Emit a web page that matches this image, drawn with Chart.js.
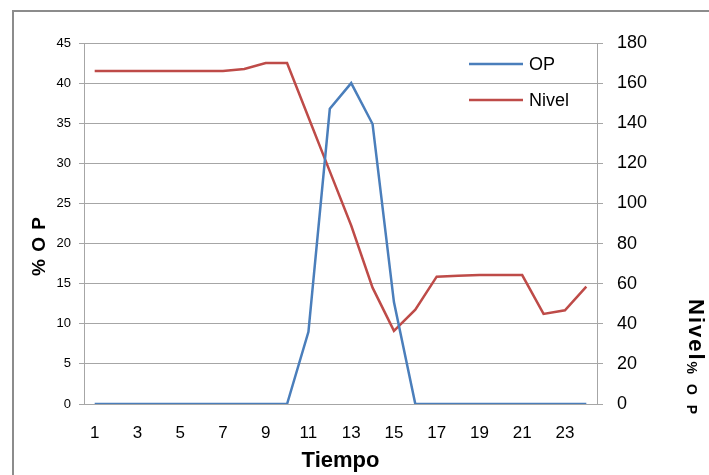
<!DOCTYPE html>
<html>
<head>
<meta charset="utf-8">
<script src="https://cdn.jsdelivr.net/npm/chart.js@4/dist/chart.umd.min.js"></script>
<style>
  html, body { margin: 0; padding: 0; background: #fff; overflow: hidden; }
  #wrap { position: relative; width: 709px; height: 475px; }
  #frame { position: absolute; left: 12px; top: 10px; width: 720px; height: 500px;
           border-left: 2px solid #8c8c8c; border-top: 2px solid #8c8c8c; box-sizing: border-box; }
  canvas { position: absolute; left: 0; top: 0; }
</style>
</head>
<body>
<div id="wrap">
  <div id="frame"></div>
  <canvas id="chart" width="709" height="475"></canvas>
</div>
<script>
// datos
const tiempo = [1, 2, 3, 4, 5, 6, 7, 8, 9, 10, 11, 12, 13, 14, 15, 16, 17, 18, 19, 20, 21, 22, 23, 24];
const op = [0, 0, 0, 0, 0, 0, 0, 0, 0, 0, 9, 36.8, 40, 34.9, 12.7, 0, 0, 0, 0, 0, 0, 0, 0, 0];
const nivel = [166, 166, 166, 166, 166, 166, 166, 167, 170, 170, 143, 116, 89, 58, 36.5, 47, 63.5, 64, 64.3, 64.3, 64.3, 44.9, 46.7, 58.5];
const ticksOP = [0, 5, 10, 15, 20, 25, 30, 35, 40, 45];
const ticksNivel = [0, 20, 40, 60, 80, 100, 120, 140, 160, 180];

const azul = '#4a7ebb';
const rojo = '#be4b48';
const gris = '#a6a6a6';
const fuente = '"Liberation Sans", Arial, sans-serif';

// titulos y leyenda dibujados a mano
const extras = {
    id: 'extras',
    afterDraw(chart) {
        const ctx = chart.ctx;
        const area = chart.chartArea;
        ctx.save();
        ctx.fillStyle = '#000';

        // titulo eje izquierdo
        ctx.save();
        ctx.translate(40, 246);
        ctx.rotate(-Math.PI / 2);
        ctx.font = 'bold 19px ' + fuente;
        ctx.letterSpacing = '1px';
        ctx.textAlign = 'center';
        ctx.textBaseline = 'middle';
        ctx.fillText('% O P', 0, 0);
        ctx.restore();

        // titulo eje x
        ctx.font = 'bold 22px ' + fuente;
        ctx.textAlign = 'center';
        ctx.textBaseline = 'middle';
        ctx.fillText('Tiempo', (area.left + area.right) / 2, 461);

        // titulo eje derecho
        ctx.save();
        ctx.translate(689, 299);
        ctx.rotate(Math.PI / 2);
        ctx.textAlign = 'left';
        ctx.textBaseline = 'alphabetic';
        ctx.font = 'bold 22px ' + fuente;
        ctx.letterSpacing = '2px';
        ctx.fillText('Nivel', 0, 0);
        const w = ctx.measureText('Nivel').width;
        ctx.font = 'bold 14px ' + fuente;
        ctx.letterSpacing = '3px';
        ctx.fillText('% O P', w, 2);
        ctx.restore();

        // leyenda
        const items = [[chart.data.datasets[0], 64], [chart.data.datasets[1], 100]];
        ctx.font = '18px ' + fuente;
        ctx.textAlign = 'left';
        ctx.textBaseline = 'middle';
        items.forEach(function(it) {
            ctx.strokeStyle = it[0].borderColor;
            ctx.lineWidth = 2.5;
            ctx.beginPath();
            ctx.moveTo(469, it[1]);
            ctx.lineTo(523, it[1]);
            ctx.stroke();
            ctx.fillText(it[0].label, 529, it[1] + 1);
        });
        ctx.restore();
    }
};

const ctx = document.getElementById('chart').getContext('2d');
new Chart(ctx, {
    type: 'line',
    data: {
        labels: tiempo,
        datasets: [
            { label: 'OP', data: op, yAxisID: 'y', borderColor: azul, backgroundColor: azul,
              borderWidth: 2.5, pointRadius: 0, tension: 0 },
            { label: 'Nivel', data: nivel, yAxisID: 'y1', borderColor: rojo, backgroundColor: rojo,
              borderWidth: 2.5, pointRadius: 0, tension: 0 }
        ]
    },
    options: {
        responsive: false,
        animation: false,
        layout: { padding: { top: 43, left: 0, right: 0, bottom: 0 } },
        plugins: { legend: { display: false }, tooltip: { enabled: false } },
        scales: {
            x: {
                offset: true,
                grid: { display: false, drawTicks: false },
                border: { display: false },
                ticks: {
                    autoSkip: false, maxRotation: 0, padding: 19, color: '#000',
                    font: { family: fuente, size: 17 },
                    callback: function(v, i) { return i % 2 === 0 ? tiempo[i] : ''; }
                },
                afterFit: function(s) { s.height = 71; }
            },
            y: {
                position: 'left',
                min: ticksOP[0], max: ticksOP[ticksOP.length - 1],
                afterBuildTicks: function(s) { s.ticks = ticksOP.map(function(v) { return { value: v }; }); },
                grid: { color: gris, lineWidth: 1, tickLength: 5 },
                border: { display: true, color: gris, width: 1 },
                ticks: { padding: 8, color: '#000', font: { family: fuente, size: 13 } },
                afterFit: function(s) { s.width = 84; }
            },
            y1: {
                position: 'right',
                min: ticksNivel[0], max: ticksNivel[ticksNivel.length - 1],
                afterBuildTicks: function(s) { s.ticks = ticksNivel.map(function(v) { return { value: v }; }); },
                grid: { drawOnChartArea: false, color: gris, lineWidth: 1, tickLength: 6 },
                border: { display: true, color: gris, width: 1 },
                ticks: { padding: 14, color: '#000', font: { family: fuente, size: 18 } },
                afterFit: function(s) { s.width = 112; }
            }
        }
    },
    plugins: [extras]
});
</script>
</body>
</html>
